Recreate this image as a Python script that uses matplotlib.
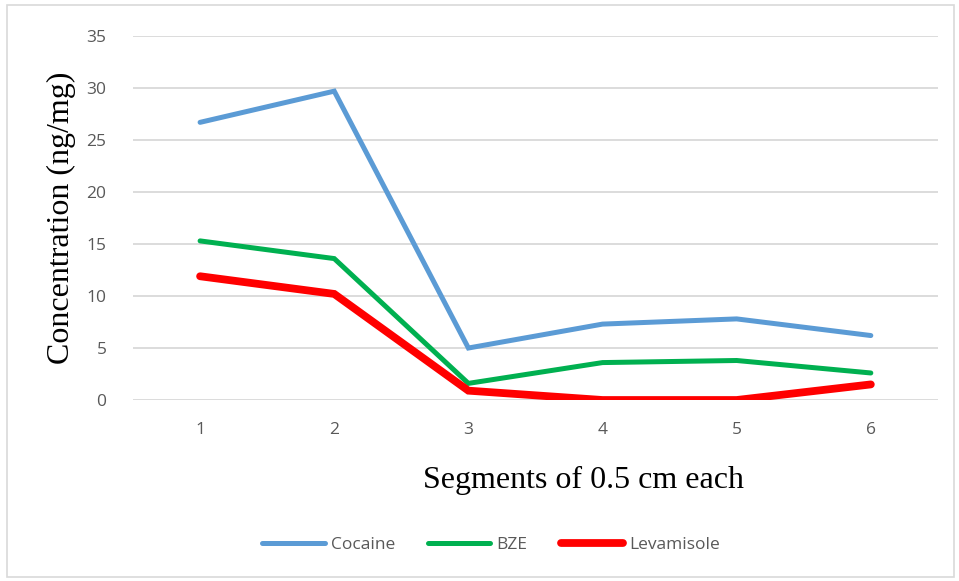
import matplotlib
matplotlib.use("Agg")
import matplotlib.pyplot as plt
from matplotlib.patches import Rectangle
from matplotlib.lines import Line2D

segments = [1, 2, 3, 4, 5, 6]
cocaine = [26.7, 29.7, 5.0, 7.3, 7.8, 6.2]
bze = [15.3, 13.6, 1.6, 3.6, 3.8, 2.6]
levamisole = [11.9, 10.2, 0.9, 0.0, 0.0, 1.5]
y_ticks = [0, 5, 10, 15, 20, 25, 30, 35]

color_coc = "#5b9bd5"
color_bze = "#00b050"
color_lev = "#ff0000"
tick_color = "#595959"
grid_color = "#d9d9d9"

fig = plt.figure(figsize=(9.59, 5.81), dpi=100)
ax = fig.add_axes([0.1387, 0.3115, 0.978 - 0.1387, 0.938 - 0.3115])

# chart border like the office export
fig.patches.append(Rectangle((7 / 959, 4 / 581), 947 / 959, 572 / 581, transform=fig.transFigure,
                             fill=False, edgecolor="#d9d9d9", linewidth=1.2))

ax.plot(segments, cocaine, color=color_coc, linewidth=3.6, solid_capstyle="round", solid_joinstyle="miter", zorder=3)
ax.plot(segments, bze, color=color_bze, linewidth=3.6, solid_capstyle="round", solid_joinstyle="miter", zorder=3)
ax.plot(segments, levamisole, color=color_lev, linewidth=5.6, solid_capstyle="round", solid_joinstyle="miter", zorder=3)

ax.set_xlim(0.5, 6.5)
ax.set_ylim(0, 35)
ax.set_yticks(y_ticks)
ax.set_xticks(segments)
ax.grid(axis="y", color=grid_color, linewidth=1.3)
ax.set_axisbelow(True)
for side in ["top", "right", "left", "bottom"]:
    ax.spines[side].set_visible(False)
ax.tick_params(axis="both", length=0, labelsize=12.5, labelcolor=tick_color)
ax.tick_params(axis="y", pad=19)
ax.tick_params(axis="x", pad=16)
for lbl in ax.get_xticklabels() + ax.get_yticklabels():
    lbl.set_family("Open Sans")

ax.set_ylabel("Concentration (ng/mg)", family="Liberation Serif", fontsize=23, labelpad=8)
ax.set_xlabel("Segments of 0.5 cm each", family="Liberation Serif", fontsize=23)
ax.xaxis.set_label_coords(0.56, -0.18)

handles = [
    Line2D([], [], color=color_coc, linewidth=3.6, solid_capstyle="round"),
    Line2D([], [], color=color_bze, linewidth=3.6, solid_capstyle="round"),
    Line2D([], [], color=color_lev, linewidth=5.6, solid_capstyle="round"),
]
fig.legend(handles, ["Cocaine", "BZE", "Levamisole"], loc="center", bbox_to_anchor=(0.512, 0.062),
           ncol=3, frameon=False, handlelength=3.6, handletextpad=0.35, columnspacing=1.9,
           prop={"family": "Open Sans", "size": 12.5}, labelcolor=tick_color)

fig.savefig("out.png", dpi=100)
